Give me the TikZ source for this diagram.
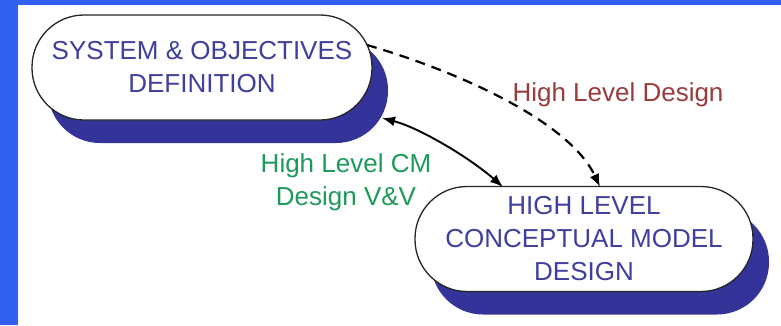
\documentclass[tikz,border=0pt]{standalone}
\usepackage{fontspec}
\setmainfont{Liberation Sans}
\usetikzlibrary{arrows.meta,shadows}
\definecolor{bgblue}{HTML}{2F60F0}
\definecolor{shadowblue}{HTML}{333399}
\definecolor{nodetext}{HTML}{3F3F9F}
\definecolor{greentext}{HTML}{1E9A5A}
\definecolor{redtext}{HTML}{9A3C3C}
\tikzset{
  stadium/.style={draw=black!85, line width=1.3pt, fill=white, rectangle,
    rounded corners=52pt, inner sep=0pt, minimum height=105pt, align=center,
    text=nodetext, font=\fontsize{26}{33}\selectfont,
    general shadow={fill=shadowblue, shadow xshift=16pt, shadow yshift=-23pt}},
  lbl/.style={inner sep=0pt, align=center, font=\fontsize{26}{33}\selectfont},
  tip/.style={-{Latex[length=13pt,width=10pt]}},
}
\begin{document}
\begin{tikzpicture}[x=1pt,y=-1pt]
\useasboundingbox (0,0) rectangle (781,325);
\fill[white] (0,0) rectangle (781,325);
\fill[bgblue] (0,0) rectangle (18,325);
\fill[bgblue] (0,0) rectangle (781,5);

\node[stadium, minimum width=340pt] (sys) at (202,67.5) {SYSTEM \& OBJECTIVES\\DEFINITION};
\node[stadium, minimum width=338pt] (hlc) at (584,239) {HIGH LEVEL\\CONCEPTUAL MODEL\\DESIGN};

\node[lbl, text=greentext] (cmvv) at (346,182) {High Level CM\\Design V\&V};
\node[lbl, text=redtext] (hld) at (618,95) {High Level Design};

\draw[tip, line width=2.2pt, dash pattern=on 10pt off 7pt]
  ([shift={(165,-22.5)}]sys.center) .. controls (460,72) and (570,122) .. ([shift={(16,-52)}]hlc.center);
\draw[{Latex[length=13pt,width=10pt]}-{Latex[length=13pt,width=10pt]}, line width=1.9pt]
  ([shift={(180,50.5)}]sys.center) .. controls (420,128) and (470,158) .. ([shift={(-81,-52)}]hlc.center);
\end{tikzpicture}
\end{document}
